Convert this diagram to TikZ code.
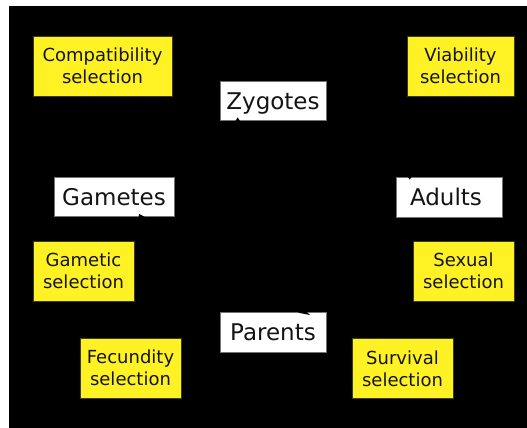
\documentclass[tikz,border=0pt]{standalone}
\usepackage{fontspec}
\setmainfont{DejaVu Sans}
\usetikzlibrary{arrows.meta,calc}
\definecolor{selyellow}{RGB}{255,242,36}
\definecolor{inkcol}{RGB}{20,20,20}
\begin{document}
\begin{tikzpicture}[x=1pt,y=-1pt,
  stage/.style={draw=black!55, line width=0.6pt, fill=white, inner sep=0pt,
    text height=17pt, text depth=0pt, text=inkcol,
    font=\fontsize{23}{27}\selectfont},
  sel/.style={draw=black!75!selyellow, line width=0.8pt, fill=selyellow, inner sep=0pt,
    align=center, text=inkcol, font=\fontsize{18}{22}\selectfont},
  cyc/.style={draw=black, line width=2pt, -{Stealth[length=10pt,width=12pt]},
    shorten >=-3pt, shorten <=2pt}]
\useasboundingbox (0,0) rectangle (527,428);
\fill[white] (0,0) rectangle (527,428);
\fill[black] (9,6) rectangle (527,428);

% stages
\node[stage, minimum width=106pt, minimum height=39pt] (zyg) at (273,100.5) {Zygotes};
\node[stage, minimum width=120pt, minimum height=39pt] (gam) at (114,196.5) {Gametes};
\node[stage, minimum width=106pt, minimum height=40pt, text width=100pt, align=left] (adu) at (449,197) {\hspace*{11pt}Adults};
\node[stage, minimum width=106pt, minimum height=40pt] (par) at (273,332) {Parents};

% selection boxes
\node[sel, minimum width=139pt, minimum height=60pt] (compat) at (102.5,66) {Compatibility\\selection};
\node[sel, minimum width=107pt, minimum height=60pt] (viab) at (460.5,66) {Viability\\selection};
\node[sel, minimum width=101pt, minimum height=60pt] (gsel) at (83.5,271) {Gametic\\selection};
\node[sel, minimum width=101pt, minimum height=60pt] (sex) at (463.5,271) {Sexual\\selection};
\node[sel, minimum width=101pt, minimum height=60pt] (fec) at (130.5,368) {Fecundity\\selection};
\node[sel, minimum width=101pt, minimum height=60pt] (surv) at (402.5,368.5) {Survival\\selection};

% life cycle arrows (black on black)
\draw[cyc] (zyg.east) to[out=0, in=90] ($(adu.north west)+(14,0)$);
\draw[cyc] ($(adu.south)+(-30,0)$) to[out=-130, in=20] ($(par.north east)+(-25,0)$);
\draw[cyc] (par.west) to[out=180, in=-60] ($(gam.south east)+(-34,0)$);
\draw[cyc] (gam.north) to[out=90, in=-90] ($(zyg.south west)+(18,0)$);
\end{tikzpicture}
\end{document}
